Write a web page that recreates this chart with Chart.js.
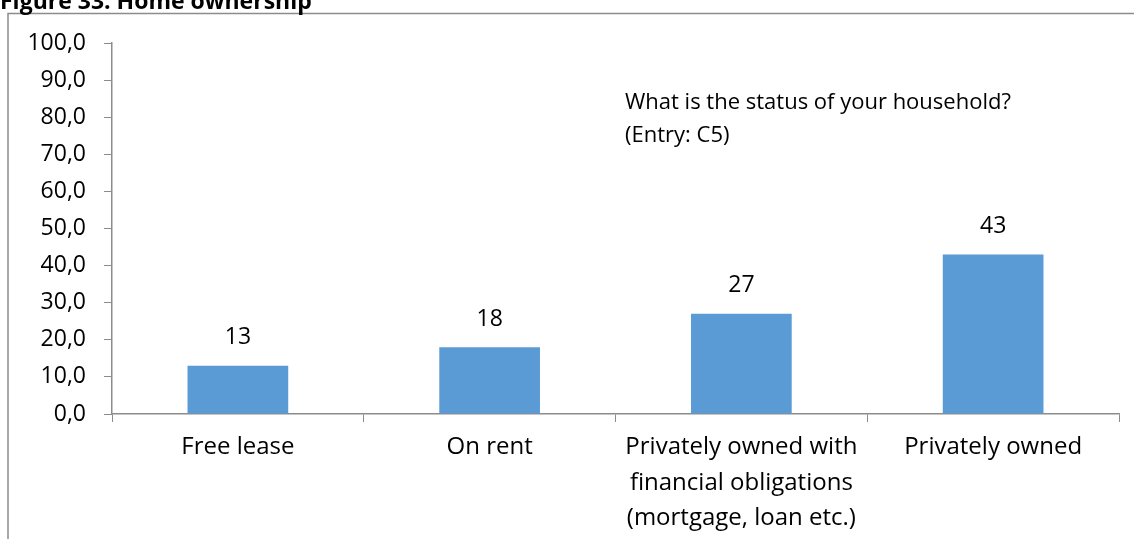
<!DOCTYPE html>
<html>
<head>
<meta charset="utf-8">
<title>Figure 33: Home ownership</title>
<script src="https://cdn.jsdelivr.net/npm/chart.js@4/dist/chart.umd.min.js"></script>
<style>
  html, body { margin: 0; padding: 0; background: #fff; }
  #wrap { width: 1134px; height: 539px; position: relative; }
</style>
</head>
<body>
<div id="wrap"><canvas id="grafico-casa"></canvas></div>
<script>
var categorias = [
    "Free lease",
    "On rent",
    ["Privately owned with", "financial obligations", "(mortgage, loan etc.)"],
    "Privately owned"
];
var valores = [13, 18, 27, 43];
var yMin = 0;
var yMax = 100;
var yPasso = 10;

var fonte = "'Open Sans', 'Noto Sans', sans-serif";

// titulo (cortado no topo) e moldura cinza
var moldura = {
    id: 'moldura',
    beforeDraw: function (chart) {
        var ctx = chart.ctx;
        ctx.save();
        ctx.strokeStyle = '#8c8c8c';
        ctx.lineWidth = 1.5;
        ctx.beginPath();
        ctx.moveTo(8, 539);
        ctx.lineTo(8, 13.5);
        ctx.lineTo(1134, 13.5);
        ctx.stroke();
        ctx.fillStyle = '#000';
        ctx.font = "bold 23px " + fonte;
        ctx.textBaseline = 'alphabetic';
        ctx.textAlign = 'left';
        ctx.fillText("Figure 33: Home ownership", 0, 9);
        ctx.restore();
    }
};

// valores em cima das barras + texto da pergunta
var rotulos = {
    id: 'rotulos',
    afterDatasetsDraw: function (chart) {
        var ctx = chart.ctx;
        var meta = chart.getDatasetMeta(0);
        ctx.save();
        ctx.fillStyle = '#000';
        ctx.font = "23px " + fonte;
        ctx.textAlign = 'center';
        ctx.textBaseline = 'middle';
        meta.data.forEach(function (barra, i) {
            ctx.fillText(String(valores[i]), barra.x, barra.y - 28);
        });
        ctx.textAlign = 'left';
        ctx.font = "22px " + fonte;
        ctx.fillText("What is the status of your household?", 625, 103);
        ctx.fillText("(Entry: C5)", 625, 136);
        ctx.restore();
    }
};

var referencia = document.querySelector("#grafico-casa").getContext("2d");

var grafico = new Chart(referencia, {
    type: 'bar',
    data: {
        labels: categorias,
        datasets: [{
            label: "Home ownership",
            backgroundColor: "#5b9bd5",
            borderColor: "#5b9bd5",
            borderWidth: 0,
            data: valores,
            categoryPercentage: 1,
            barPercentage: 0.4
        }]
    },
    options: {
        responsive: true,
        maintainAspectRatio: false,
        animation: false,
        layout: {
            padding: { top: 43, right: 15, bottom: 0, left: 0 }
        },
        plugins: {
            legend: { display: false },
            tooltip: { enabled: false },
            title: { display: false }
        },
        scales: {
            x: {
                offset: true,
                grid: {
                    offset: true,
                    drawOnChartArea: false,
                    drawTicks: true,
                    tickLength: 8,
                    color: '#8c8c8c'
                },
                border: { display: true, color: '#8c8c8c', width: 1.5 },
                ticks: {
                    color: '#000',
                    font: { family: fonte, size: 24, lineHeight: 1.47 },
                    padding: 8,
                    maxRotation: 0,
                    autoSkip: false
                },
                afterFit: function (scale) { scale.height = 125; }
            },
            y: {
                min: yMin,
                max: yMax,
                grid: {
                    drawOnChartArea: false,
                    drawTicks: true,
                    tickLength: 8,
                    color: '#8c8c8c'
                },
                border: { display: true, color: '#8c8c8c', width: 1.5 },
                ticks: {
                    stepSize: yPasso,
                    color: '#000',
                    padding: 18,
                    font: { family: fonte, size: 23 },
                    callback: function (v) { return v.toFixed(1).replace('.', ','); }
                },
                afterFit: function (scale) { scale.width = 112; }
            }
        }
    },
    plugins: [moldura, rotulos]
});
</script>
</body>
</html>
